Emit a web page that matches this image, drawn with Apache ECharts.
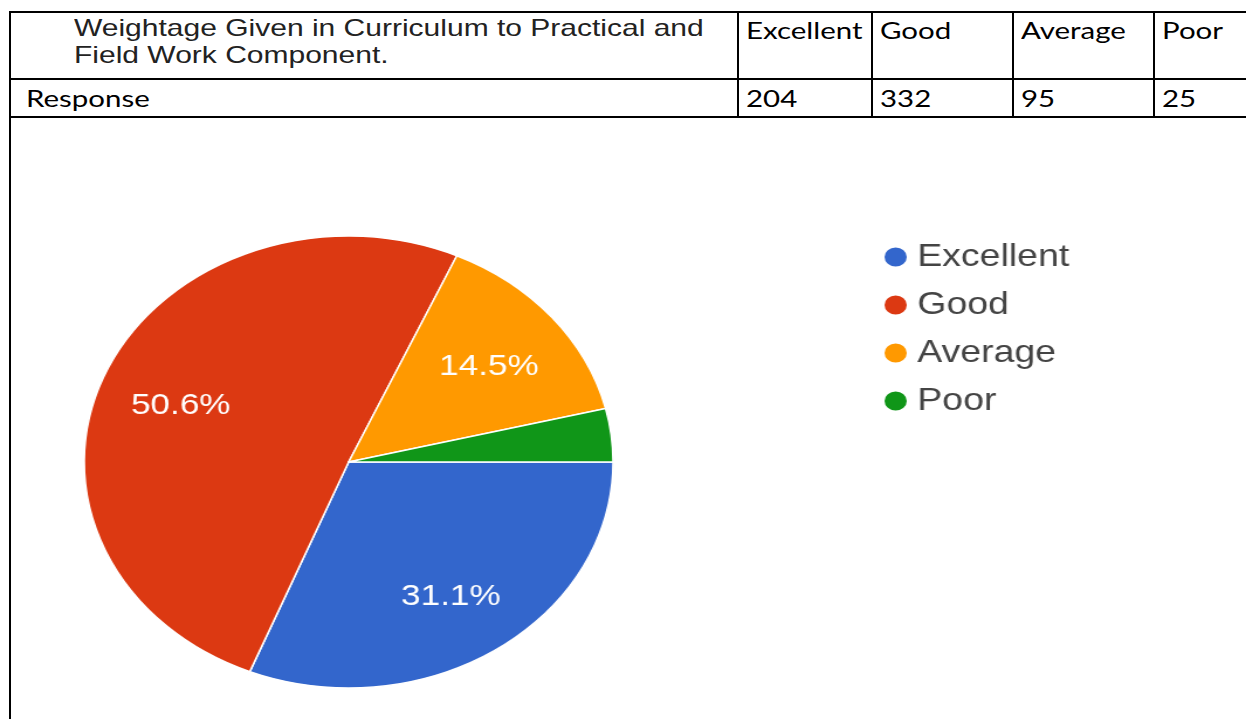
<!DOCTYPE html>
<html>
<head>
<meta charset="utf-8">
<script src="https://cdn.jsdelivr.net/npm/echarts@6/dist/echarts.min.js"></script>
<style>
  html, body { margin: 0; padding: 0; background: #fff; width: 1246px; height: 719px; overflow: hidden; }
  .ln { position: absolute; background: #000; }
  .tx { position: absolute; white-space: nowrap; color: #000; transform-origin: 0 0; }
  .hd { font-family: "Liberation Sans", Arial, sans-serif; font-size: 24px; line-height: 27px; color: #222; transform: scaleX(1.25); }
  .cl { font-family: Lato, "Open Sans", sans-serif; font-size: 23px; line-height: 26px; transform: scaleX(1.28); }
  #chart { position: absolute; left: 0; top: 0; width: 1065px; height: 719px; transform: scaleX(1.17); transform-origin: 0 0; }
</style>
</head>
<body>
<div id="table"></div>
<div id="chart"></div>
<script>
const question = ["Weightage Given in Curriculum to Practical and", "Field Work Component."]
const rowLabel = "Response"
const categories = ["Excellent", "Good", "Average", "Poor"]
const responses = [204, 332, 95, 25]
const colors = ["#3366cc", "#dc3912", "#ff9900", "#109618"]

// table drawn as plain html above the chart
const colX = [738, 872, 1013, 1154]
const tbl = document.getElementById("table")
function line(x, y, w, h) {
  const d = document.createElement("div")
  d.className = "ln"
  d.style.cssText = `left:${x}px;top:${y}px;width:${w}px;height:${h}px`
  tbl.appendChild(d)
}
function text(str, x, y, cls) {
  const d = document.createElement("div")
  d.className = "tx " + cls
  d.style.left = x + "px"
  d.style.top = y + "px"
  d.textContent = str
  tbl.appendChild(d)
}
line(9, 11, 1246, 2)
line(9, 78, 1246, 2)
line(9, 116, 1246, 2)
line(9, 11, 2, 719)
colX.forEach(x => line(x - 1, 11, 2, 106))
text(question[0], 74, 14, "hd")
text(question[1], 74, 41, "hd")
text(rowLabel, 26, 85, "cl")
categories.forEach((c, i) => {
  text(c, colX[i] + 8, 17, "cl")
  text(String(responses[i]), colX[i] + 8, 85, "cl")
})

const myChart = echarts.init(document.getElementById("chart"))
const pieData = categories.map((c, i) => ({ name: c, value: responses[i] }))

const option = {
  color: colors,
  animation: false,
  legend: {
    orient: "vertical",
    left: 749,
    top: 236,
    icon: "circle",
    itemWidth: 21,
    itemHeight: 21,
    itemGap: 16,
    textStyle: {
      fontFamily: "Liberation Sans, Arial, sans-serif",
      fontSize: 32,
      color: "#444",
      padding: [0, 0, 0, 3]
    },
    data: categories
  },
  series: [
    {
      name: "slices",
      type: "pie",
      center: [298, 462],
      radius: [0, 226],
      startAngle: 0,
      clockwise: true,
      label: { show: false },
      labelLine: { show: false },
      itemStyle: { borderColor: "#fff", borderWidth: 1.5 },
      data: pieData
    },
    {
      // transparent ring only to place the percent labels further out
      name: "labels",
      type: "pie",
      center: [298, 462],
      radius: [80, 226],
      startAngle: 0,
      clockwise: true,
      silent: true,
      minShowLabelAngle: 20,
      itemStyle: { color: "transparent" },
      label: {
        show: true,
        position: "inside",
        color: "#fff",
        fontFamily: "Liberation Sans, Arial, sans-serif",
        fontSize: 30,
        offset: [0, 5],
        formatter: p => p.percent.toFixed(1) + "%"
      },
      labelLine: { show: false },
      data: pieData
    }
  ]
}
myChart.setOption(option, true)
</script>
</body>
</html>
